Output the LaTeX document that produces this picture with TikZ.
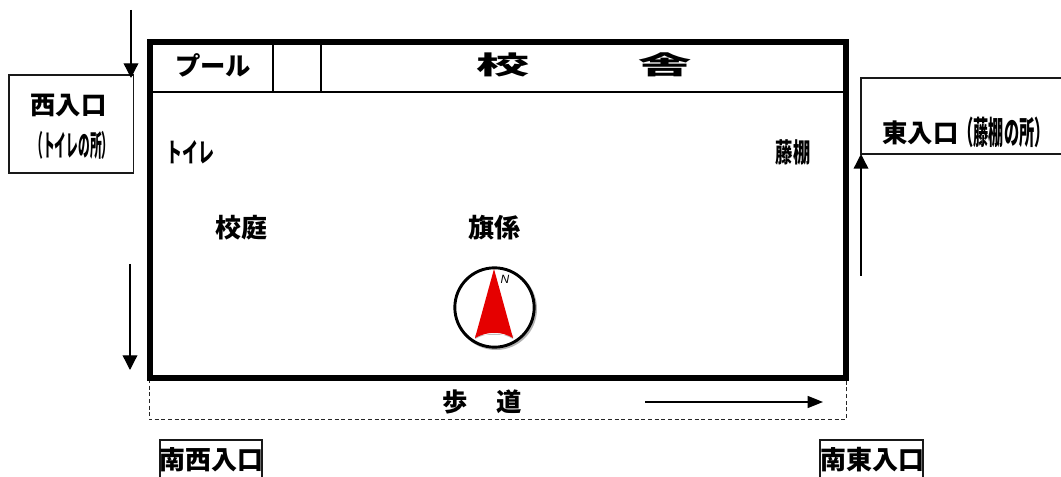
\documentclass[tikz,border=0pt]{standalone}
\usepackage{graphicx}
\usepackage{fontspec}
\setmainfont{Liberation Sans}
\newfontfamily\cjk{Noto Sans CJK JP Black}
\usetikzlibrary{arrows.meta}
\tikzset{
  wall/.style={draw=black,line width=4.5pt,line join=miter},
  thin line/.style={draw=black,line width=1.1pt},
  boxline/.style={draw=black!90,line width=1pt},
  flow/.style={draw=black,line width=1pt,-{Triangle[length=11pt,width=11pt]},shorten >=0pt},
  flowh/.style={draw=black,line width=1pt,-{Triangle[length=11.5pt,width=9pt]}},
  label/.style={inner sep=0pt,outer sep=0pt,font=\cjk,text=black},
}
\newcommand{\jt}[3]{\scalebox{#1}[1]{\fontsize{#2}{#2}\selectfont #3}}
\begin{document}
\begin{tikzpicture}[x=0.75pt,y=-0.75pt]
\useasboundingbox (0,0) rectangle (1061,477);
% entrance boxes
\node[boxline,minimum width=93.4pt,minimum height=73.5pt,inner sep=0pt,outer sep=0pt,anchor=north west] (west) at (9,75) {};
\draw[boxline] (1061,78) -- (861,78) -- (861,154) -- (1061,154);
\draw[boxline,line width=1.1pt] (160,477) -- (160,440) -- (262,440) -- (262,477);
\draw[boxline,line width=1.1pt] (820,477) -- (820,440) -- (923,440) -- (923,477);
% sidewalk
\draw[draw=black!85,line width=0.75pt,densely dashed] (149,379) -- (149,420) -- (846,420) -- (846,379);
% main site
\node[wall,minimum width=522.4pt,minimum height=252pt,inner sep=0pt,anchor=north west,outer sep=0pt] (site) at (149.5,42) {};
\draw[thin line] (150,92) -- (845,92);
\draw[thin line] (273,43) -- (273,92);
\draw[thin line] (321,43) -- (321,92);
% arrows
\coordinate (a1) at (131,10); \coordinate (a2) at (131,78);
\coordinate (b1) at (130,264); \coordinate (b2) at (130,370);
\coordinate (c1) at (861,276); \coordinate (c2) at (861,154);
\coordinate (d1) at (645,402); \coordinate (d2) at (823,402);
\draw[flow] (a1) -- (a2);
\draw[flow] (b1) -- (b2);
\draw[flow] (c1) -- (c2);
\draw[flowh] (d1) -- (d2);
% labels
\node[label] (pool) at (213,65) {\jt{1}{19}{プール}};
\node[label] (ko) at (503,65) {\jt{2.1}{19}{校}};
\node[label] (sha) at (665,65) {\jt{2.1}{19}{舎}};
\node[label] (w1) at (68.5,105) {\jt{1}{19}{西入口}};
\node[label] (w2) at (72.5,145) {\jt{0.4}{22}{（トイレの所）}};
\node[label] (toilet) at (190,152) {\jt{0.6}{20}{トイレ}};
\node[label] (fuji) at (793,152) {\jt{0.65}{20}{藤棚}};
\node[label] (e1) at (920.5,133) {\jt{1}{19}{東入口}};
\node[label] (e2) at (1004,132) {\jt{0.475}{24}{（藤棚の所）}};
\node[label] (kotei) at (241,228) {\jt{1}{19.5}{校庭}};
\node[label] (hata) at (494,228) {\jt{1}{19.5}{旗係}};
\node[label] (ho) at (455.5,402) {\jt{1}{19}{歩}};
\node[label] (michi) at (509,402) {\jt{1}{19}{道}};
\node[label] (sw) at (211.5,460) {\jt{1}{19.5}{南西入口}};
\node[label] (se) at (872.5,460) {\jt{1}{19.5}{南東入口}};
% compass
\draw[black!30,line width=1.5pt] (496,309) circle[radius=40];
\node[circle,draw=black,line width=2.2pt,fill=white,minimum size=59.5pt,inner sep=0pt] (compass) at (494.5,307.5) {};
\fill[black!25] (475,339) .. controls (488,332) and (501,332) .. (513,339) -- (513,335) -- (475,335) -- cycle;
\fill[red!90!black] (494,269) -- (513,338) .. controls (501,331) and (488,331) .. (475,338) -- cycle;
\node[label,font=\normalfont\itshape\fontsize{9}{9}\selectfont] (north) at (505,279) {N};
\end{tikzpicture}
\end{document}
